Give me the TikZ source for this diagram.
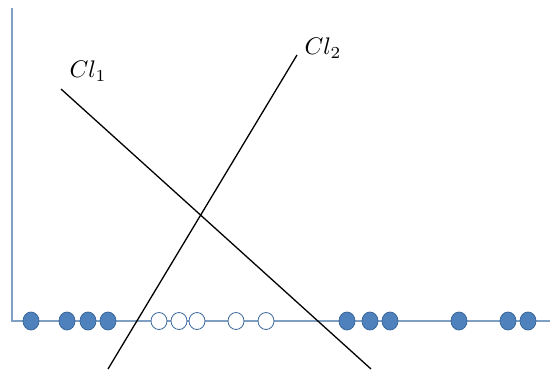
\documentclass[tikz,border=0pt]{standalone}
\usetikzlibrary{shapes.geometric}
\begin{document}
\begin{tikzpicture}[x=1pt,y=-1pt,
  axis/.style={draw=axiscol,line width=1.3pt},
  fdot/.style={ellipse,draw=dotedge,fill=dotfill,line width=0.8pt,minimum width=16,minimum height=18,inner sep=0},
  odot/.style={ellipse,draw=dotedge,fill=white,line width=0.8pt,minimum width=16,minimum height=17,inner sep=0},
  cl/.style={draw=black,line width=1.3pt},
  lab/.style={inner sep=0}]
\definecolor{axiscol}{HTML}{7F9FC3}
\definecolor{dotfill}{HTML}{4F81BD}
\definecolor{dotedge}{HTML}{3A679C}
\useasboundingbox (0,0) rectangle (550,370);
\coordinate (top) at (12,8);
\coordinate (orig) at (12,321);
\coordinate (right) at (550,321);
\draw[axis] (top) -- (orig) -- (right);
\foreach \x [count=\i] in {31,67,88,108,347,370,390,459,508,528}
  \node[fdot] (f\i) at (\x,321) {};
\foreach \x [count=\i] in {159,179,197,236,266}
  \node[odot] (o\i) at (\x,321) {};
\coordinate (a1) at (61,89);
\coordinate (a2) at (371,369);
\coordinate (b1) at (297,55);
\coordinate (b2) at (108,369);
\draw[cl] (a1) -- (a2);
\draw[cl] (b1) -- (b2);
\node[lab] (l1) at (88,71) {\scalebox{2.4}{$Cl_{\scriptstyle 1}$}};
\node[lab] (l2) at (323,48) {\scalebox{2.4}{$Cl_{\scriptstyle 2}$}};
\end{tikzpicture}
\end{document}
